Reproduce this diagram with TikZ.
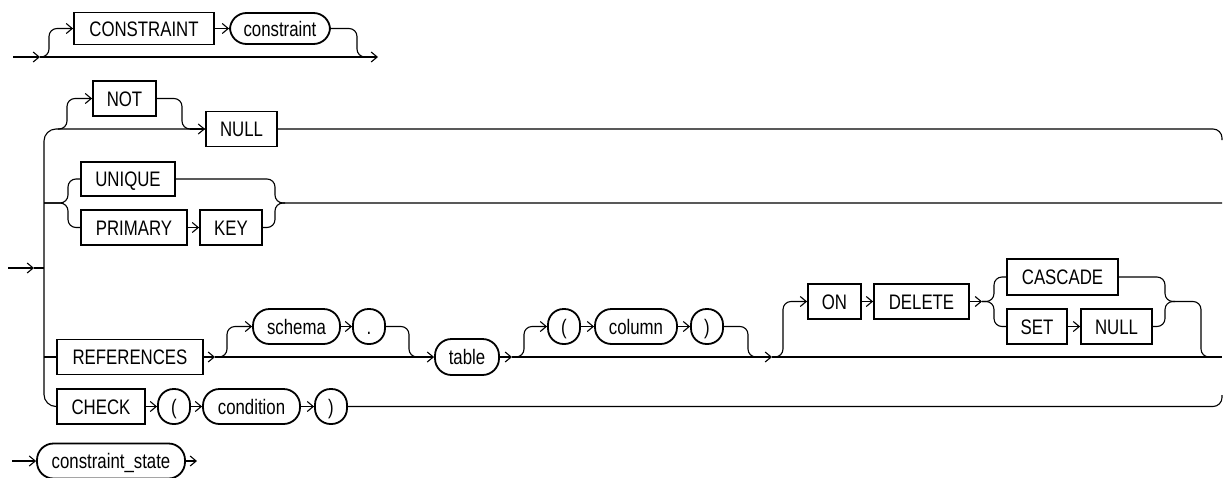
\documentclass[tikz,border=0pt]{standalone}
\usepackage{fontspec}
\setmainfont{Liberation Sans}[FakeStretch=0.8]
\usetikzlibrary{arrows.meta}
\newcommand{\railfont}{\fontsize{21pt}{21pt}\selectfont}
\tikzset{
  rail/.style={line width=1.1pt, black},
  arr/.style={rail, -{Straight Barb[length=6pt,width=10pt,line width=1.1pt]}},
  boxbase/.style={draw, line width=1.8pt, inner sep=0pt, minimum height=35pt,
    font=\railfont, text height=18pt, text depth=3pt},
  kw/.style={boxbase, rectangle, minimum width=#1pt},
  nt/.style={boxbase, rectangle, rounded corners=16.5pt, minimum width=#1pt},
  ch/.style={boxbase, rectangle, rounded corners=15.5pt, minimum width=32pt}
}
\begin{document}
\begin{tikzpicture}[x=1pt,y=-1pt]
\useasboundingbox (0,0) rectangle (1229,477);
% ---------- top ----------
\node[kw=140, minimum height=32pt] (cons) at (144,28.5) {CONSTRAINT};
\node[nt=100, minimum height=31pt] (consname) at (280,28.5) {constraint};
\draw[arr] (13,57) -- (40,57);
\draw[arr] (40,57) -- (378,57);
\draw[arr, rounded corners=8] (40,57) -| (49,28.5) -- (cons.west);
\draw[arr] (cons.east) -- (consname.west);
\draw[rail, rounded corners=8] (consname.east) -| (357,57) -- (367,57);
% ---------- nodes of middle ----------
\node[kw=63] (not) at (124.5,98.5) {NOT};
\node[kw=71] (null) at (241.5,129) {NULL};
\node[kw=94, minimum height=34pt] (unique) at (128,179) {UNIQUE};
\node[kw=106] (primary) at (134,227.5) {PRIMARY};
\node[kw=62] (key) at (231,227.5) {KEY};
\node[kw=146] (refs) at (130,357) {REFERENCES};
\node[nt=87] (schema) at (296.5,326.5) {schema};
\node[ch] (dot) at (369,326.5) {.};
\node[nt=64, minimum height=36pt] (table) at (467,357) {table};
\node[ch] (lp) at (564,326.5) {(};
\node[nt=82] (column) at (636,326.5) {column};
\node[ch] (rp) at (707,326.5) {)};
\node[kw=53] (on) at (834.5,301.5) {ON};
\node[kw=95] (delete) at (921.5,301.5) {DELETE};
\node[kw=111, minimum height=36pt] (cascade) at (1062.5,277) {CASCADE};
\node[kw=60] (set) at (1037,326.5) {SET};
\node[kw=71] (null2) at (1116.5,326.5) {NULL};
\node[kw=88] (check) at (101,406.5) {CHECK};
\node[ch] (lp2) at (174,406.5) {(};
\node[nt=97] (cond) at (251.5,406.5) {condition};
\node[ch] (rp2) at (331,406.5) {)};
\node[nt=148] (cstate) at (111,461) {constraint\_state};
% ---------- trunk ----------
\draw[arr] (8,268) -- (34,268);
\draw[rail] (34,268) -- (44,268);
\draw[rail, rounded corners=12] (null.west) -- (44,129) -- (44,406.5) -- (check.west);
% NOT NULL
\draw[arr] (190,129) -- (null.west);
\draw[arr, rounded corners=8] (58,129) -| (67,98.5) -- (not.west);
\draw[rail, rounded corners=8] (not.east) -| (182,129) -- (192,129);
\draw[rail, rounded corners=9] (null.east) -- (1222,129) -- (1222,140);
% UNIQUE / PRIMARY KEY
\draw[rail, rounded corners=8] (44,203) -| (68,179) -- (unique.west);
\draw[rail, rounded corners=8] (44,203) -| (68,227.5) -- (primary.west);
\draw[arr] (primary.east) -- (key.west);
\draw[rail, rounded corners=8] (unique.east) -| (275,203) -- (1222,203);
\draw[rail, rounded corners=8] (key.east) -| (275,203) -- (285,203);
% REFERENCES
\draw[rail] (44,357) -- (refs.west);
\draw[arr] (refs.east) -- (215,357);
\draw[arr] (215,357) -- (table.west);
\draw[arr, rounded corners=8] (217,357) -| (227,326.5) -- (schema.west);
\draw[arr] (schema.east) -- (dot.west);
\draw[rail, rounded corners=8] (dot.east) -| (409,357) -- (420,357);
\draw[arr] (table.east) -- (512,357);
\draw[arr] (512,357) -- (772,357);
\draw[rail] (772,357) -- (1222,357);
\draw[arr, rounded corners=8] (514,357) -| (524,326.5) -- (lp.west);
\draw[arr] (lp.east) -- (column.west);
\draw[arr] (column.east) -- (rp.west);
\draw[rail, rounded corners=8] (rp.east) -| (748,357) -- (758,357);
\draw[arr, rounded corners=8] (774,357) -| (783,301.5) -- (on.west);
\draw[arr] (on.east) -- (delete.west);
\draw[arr] (delete.east) -- (982,301.5);
\draw[rail, rounded corners=8] (982,301.5) -| (994,277) -- (cascade.west);
\draw[rail, rounded corners=8] (982,301.5) -| (994,326.5) -- (set.west);
\draw[arr] (set.east) -- (null2.west);
\draw[rail, rounded corners=8] (cascade.east) -| (1165,301.5) -- (1175,301.5);
\draw[rail, rounded corners=8] (null2.east) -| (1165,301.5) -| (1201,357) -- (1213,357);
% CHECK
\draw[arr] (check.east) -- (lp2.west);
\draw[arr] (lp2.east) -- (cond.west);
\draw[arr] (cond.east) -- (rp2.west);
\draw[rail, rounded corners=9] (rp2.east) -- (1222,406.5) -- (1222,395);
% constraint_state
\draw[arr] (12,461) -- (cstate.west);
\draw[arr] (cstate.east) -- (197,461);
\end{tikzpicture}
\end{document}
